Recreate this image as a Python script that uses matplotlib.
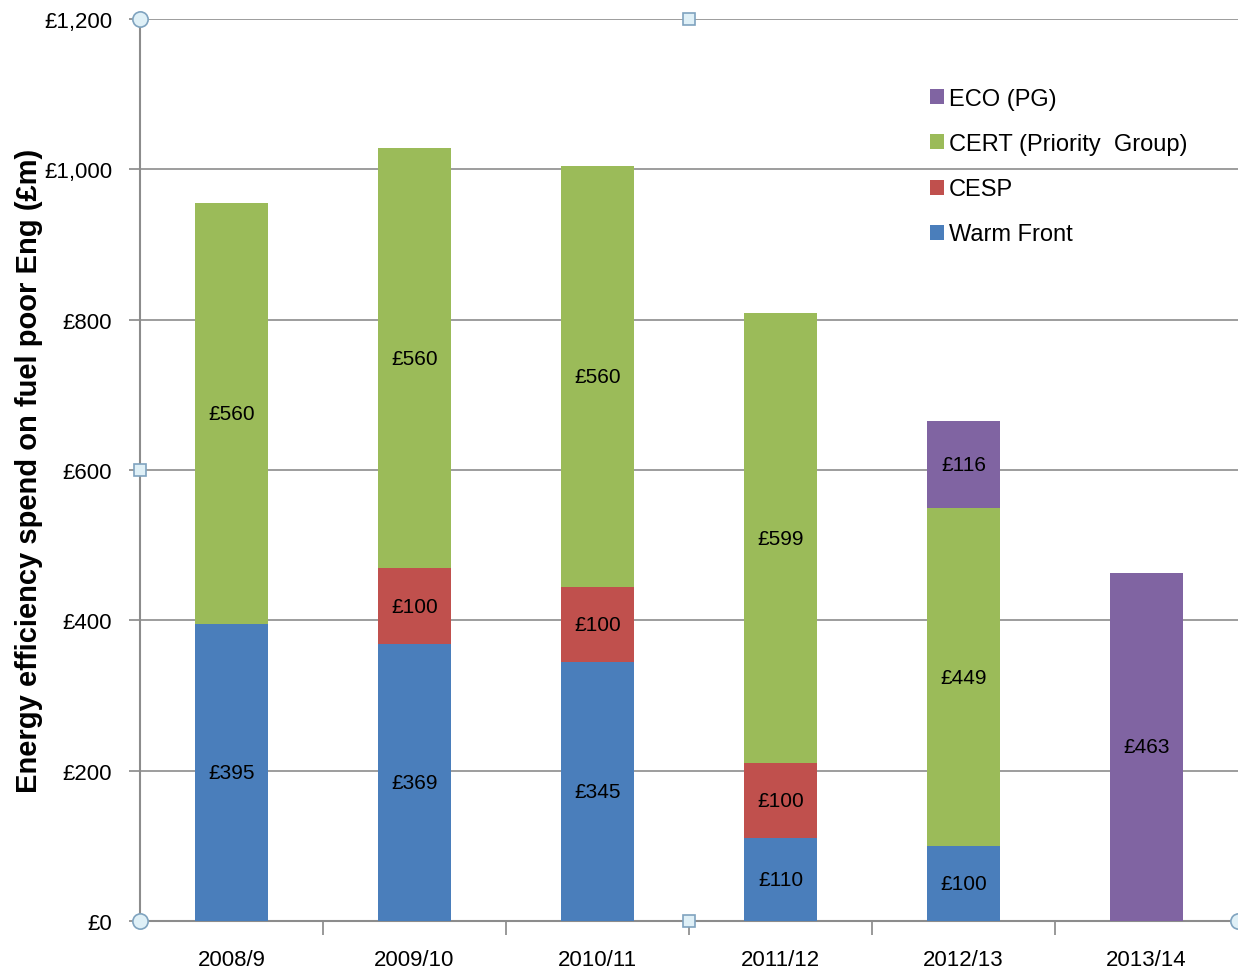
import matplotlib
matplotlib.use("Agg")
import matplotlib.pyplot as plt
import numpy as np

years = ["2008/9", "2009/10", "2010/11", "2011/12", "2012/13", "2013/14"]
warm_front = [395, 369, 345, 110, 100, 0]
cesp = [0, 100, 100, 100, 0, 0]
cert = [560, 560, 560, 599, 449, 0]
eco = [0, 0, 0, 0, 116, 463]

series = [
    ("Warm Front", warm_front, "#4A7EBB"),
    ("CESP", cesp, "#C0504D"),
    ("CERT (Priority  Group)", cert, "#9BBB59"),
    ("ECO (PG)", eco, "#8064A2"),
]

font = ["Liberation Sans", "DejaVu Sans"]

fig = plt.figure(figsize=(12.38, 9.7), dpi=100)
ax = fig.add_axes([140 / 1238, 48 / 970, 1 - 140 / 1238, 902 / 970])

x = np.arange(len(years))
bottom = np.zeros(len(years))
handles = []
for name, vals, col in series:
    vals = np.array(vals, dtype=float)
    bars = ax.bar(x, vals, 0.4, bottom=bottom, color=col, label=name, zorder=3)
    labels = [f"£{int(v)}" if v > 0 else "" for v in vals]
    ax.bar_label(bars, labels=labels, label_type="center", fontsize=15,
                 family=font, color="black", zorder=4)
    bottom += vals
    handles.append(bars)

ax.set_xlim(-0.5, len(years) - 0.5)
ax.set_ylim(0, 1200)
ax.set_yticks(np.arange(0, 1201, 200))
ax.set_yticklabels([f"£{v:,}" for v in range(0, 1201, 200)], family=font, fontsize=16)
ax.set_xticks(x)
ax.set_xticklabels(years, family=font, fontsize=16)
ax.set_xticks(np.arange(0.5, len(years) - 0.5), minor=True)
ax.tick_params(axis="x", which="major", length=0, pad=20)
ax.tick_params(axis="x", which="minor", length=10, color="#888888", width=1.2)
ax.tick_params(axis="y", length=8, color="#888888", width=1.2, pad=12)

ax.grid(axis="y", color="#8c8c8c", linewidth=1.2, zorder=0)
for s in ["top", "right"]:
    ax.spines[s].set_visible(False)
for s in ["left", "bottom"]:
    ax.spines[s].set_color("#8c8c8c")
    ax.spines[s].set_linewidth(1.5)

ax.set_ylabel("Energy efficiency spend on fuel poor Eng (£m)", fontsize=21,
              fontweight="bold", family=font)
ax.yaxis.set_label_coords(-0.088, 0.5)

leg = ax.legend(handles[::-1], [s[0] for s in series][::-1], loc="upper left",
                bbox_to_anchor=(0.70, 0.947), frameon=False, prop={"family": font, "size": 17},
                handlelength=0.6, handleheight=0.6, handletextpad=0.2, labelspacing=0.98)

# chart selection handles
for hx, hy, m in [(0, 1, "o"), (0, 0, "o"), (0.5, 1, "s"), (0.5, 0, "s"), (0, 0.5, "s"),
                  (1, 0, "o")]:
    ax.plot(hx, hy, marker=m, markersize=11 if m == "o" else 9, markerfacecolor="#dff0f7",
            markeredgecolor="#7fa3bf", markeredgewidth=1.2, transform=ax.transAxes,
            clip_on=False, zorder=10)

fig.savefig("out.png", dpi=100)
